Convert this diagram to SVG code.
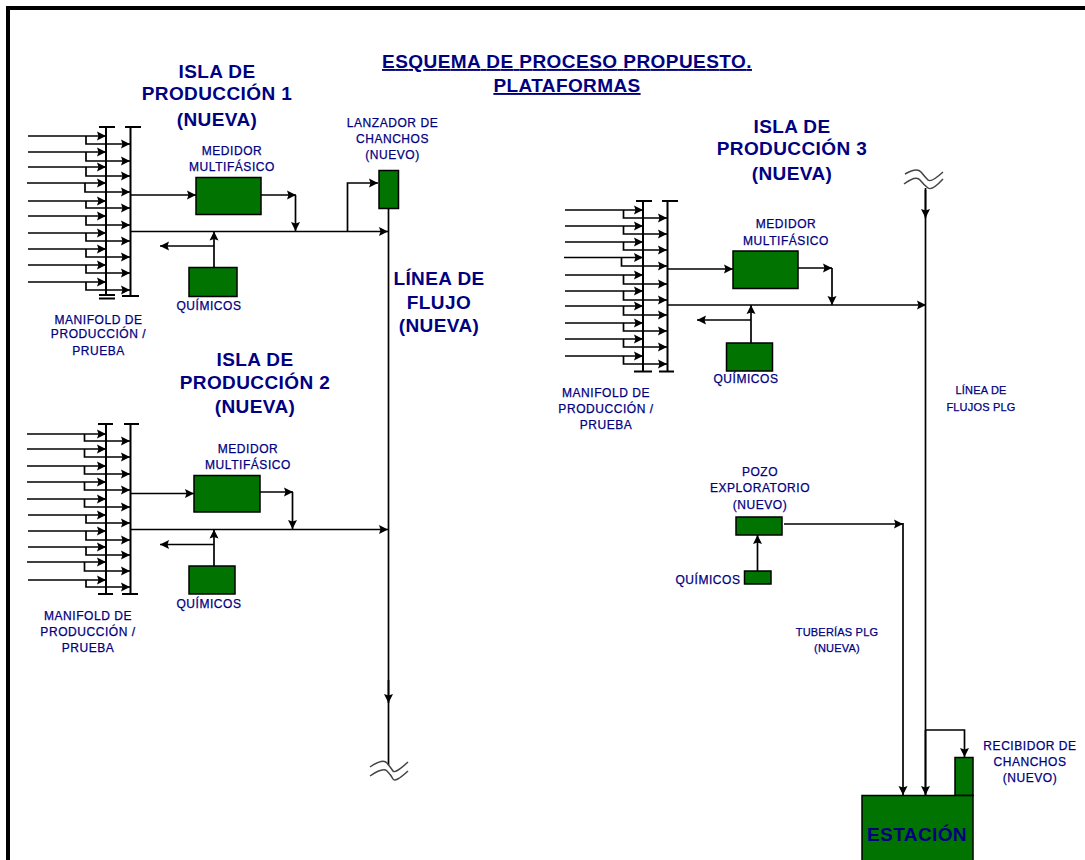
<svg xmlns="http://www.w3.org/2000/svg" width="1085" height="860" viewBox="0 0 1085 860">
<style>
text{font-family:"Liberation Sans",Arial,sans-serif;fill:#000080;text-anchor:middle}
.h{font-size:19px;font-weight:bold;letter-spacing:.4px}
.l{font-size:12px;letter-spacing:.55px;stroke:#000080;stroke-width:.25}
.n{font-size:11px;letter-spacing:.2px;stroke:#000080;stroke-width:.25}
.b{fill:#007300;stroke:#000;stroke-width:1.5}
.c{fill:none;stroke:#000;stroke-width:1.7}
.t{fill:none;stroke:#000;stroke-width:2}
.a{marker-end:url(#arr)}
.w{fill:none;stroke:#444;stroke-width:1.5}
</style>
<defs>
<marker id="arr" markerUnits="userSpaceOnUse" markerWidth="12" markerHeight="12" refX="10" refY="6" orient="auto"><path d="M1 1.500L10 6L1 10.500L2.500 6Z" fill="#000"/></marker>
</defs>
<rect width="1085" height="860" fill="#fff"/>
<rect id="frame-top" x="6" y="6" width="1079" height="4" fill="#000"/>
<rect id="frame-left" x="6" y="6" width="4" height="854" fill="#000"/>
<g id="title">
<text class="h" x="567" y="68" textLength="370" lengthAdjust="spacing" text-decoration="underline">ESQUEMA DE PROCESO PROPUESTO.</text>
<text class="h" x="567" y="92" text-decoration="underline">PLATAFORMAS</text>
</g>
<g id="connectors">
<path class="t" d="M99 127H115M125 127H141M106 127V296M130.500 127V296M99 295H115M99 298.500H115M122 296H139"/>
<path class="c a" d="M28 136H106"/><path class="c a" d="M86 136V144H130"/>
<path class="c a" d="M28 152H106"/><path class="c a" d="M86 152V161H130"/>
<path class="c a" d="M28 167H106"/><path class="c a" d="M86 167V176H130"/>
<path class="c a" d="M27 183H106"/><path class="c a" d="M85 183V192H130"/>
<path class="c a" d="M28 201H106"/><path class="c a" d="M86 201V208H130"/>
<path class="c a" d="M28 216H106"/><path class="c a" d="M86 216V225H130"/>
<path class="c a" d="M28 233H106"/><path class="c a" d="M86 233V241H130"/>
<path class="c a" d="M28 249H106"/><path class="c a" d="M86 249V257H130"/>
<path class="c a" d="M28 265H106"/><path class="c a" d="M86 265V273H130"/>
<path class="c a" d="M28 282H106"/><path class="c a" d="M86 282V290H130"/>
<path class="c a" d="M131 195H196"/>
<path class="c a" d="M131 231.500H388"/>
<path class="c a" d="M214 267V231.500"/>
<path class="c a" d="M214 246H160"/>
<path class="c a" d="M261 195H296"/>
<path class="c a" d="M295.500 195V231"/>
<path class="c a" d="M347.500 231.500V183H378"/>

<path class="t" d="M98 424H113M124 424H139M106 424V594M130.500 424V594M98 594H113M122 594H138"/>
<path class="c a" d="M27 434H106"/><path class="c a" d="M84.500 434V441H130"/>
<path class="c a" d="M27 449H106"/><path class="c a" d="M84.500 449V457H130"/>
<path class="c a" d="M27 466H106"/><path class="c a" d="M84.500 466V474H130"/>
<path class="c a" d="M27 482H106"/><path class="c a" d="M84.500 482V490H130"/>
<path class="c a" d="M27 499H106"/><path class="c a" d="M84.500 499V507H130"/>
<path class="c a" d="M28 515H106"/><path class="c a" d="M86 515V523H130"/>
<path class="c a" d="M28 531H106"/><path class="c a" d="M86 531V540H130"/>
<path class="c a" d="M28 547H106"/><path class="c a" d="M86 547V555H130"/>
<path class="c a" d="M27 562H106"/><path class="c a" d="M84.500 562V571H130"/>
<path class="c a" d="M28 580H106"/><path class="c a" d="M86 580V587H130"/>
<path class="c a" d="M131 493.500H194"/>
<path class="c a" d="M131 529.500H388"/>
<path class="c a" d="M214 566V529.500"/>
<path class="c a" d="M214 544.500H160"/>
<path class="c a" d="M260 492H293"/>
<path class="c a" d="M292.500 492V529"/>

<path class="t" d="M636 201H652M662 201H678M643 201V371M667.500 201V371M634 371.500H652M659 371.500H674"/>
<path class="c a" d="M565 210H643"/><path class="c a" d="M623.500 210V218H667"/>
<path class="c a" d="M565 226H643"/><path class="c a" d="M623.500 226V234H667"/>
<path class="c a" d="M565 242H643"/><path class="c a" d="M623.500 242V250H667"/>
<path class="c a" d="M564 257.500H643"/><path class="c a" d="M621.500 257.500V266H667"/>
<path class="c a" d="M565 275H643"/><path class="c a" d="M623.500 275V284H667"/>
<path class="c a" d="M565 291H643"/><path class="c a" d="M623.500 291V300H667"/>
<path class="c a" d="M565 306H643"/><path class="c a" d="M623.500 306V315H667"/>
<path class="c a" d="M565 323H643"/><path class="c a" d="M623.500 323V331H667"/>
<path class="c a" d="M565 339H643"/><path class="c a" d="M623.500 339V347H667"/>
<path class="c a" d="M565 356H643"/><path class="c a" d="M623.500 356V364H667"/>
<path class="c a" d="M668 269H733"/>
<path class="c a" d="M668 305H926"/>
<path class="c a" d="M751 343V305"/>
<path class="c a" d="M751 320H697"/>
<path class="c a" d="M798 268H832"/>
<path class="c a" d="M832 268V305"/>

<path class="c" d="M388.500 208V765"/>
<path class="c a" d="M388.500 680V703"/>
<path class="w" d="M370 767Q383 758 387 763T393 771T408 762M370 776Q383 767 387 771T393 779T408 771"/>
<path class="c" d="M925.500 188V795"/>
<path class="c a" d="M925.500 190V218"/>
<path class="w" d="M905 174Q917 167 921 172T928 180T943 172M904 184Q916 175 920 180T928 188T943 179"/>
<path class="c a" d="M925.500 730V795"/>
<path class="c a" d="M925.500 730H964.500V757"/>
<path class="c a" d="M784 524H903"/>
<path class="c a" d="M903 523V795"/>
<path class="c a" d="M757.500 571V535"/>
</g>
<g id="isla1-title"><text class="h" x="217" y="78">ISLA DE</text><text class="h" x="217" y="100">PRODUCCIÓN 1</text><text class="h" x="217" y="126">(NUEVA)</text></g>
<g id="isla2-title"><text class="h" x="255" y="366">ISLA DE</text><text class="h" x="255" y="389">PRODUCCIÓN 2</text><text class="h" x="255" y="413">(NUEVA)</text></g>
<g id="isla3-title"><text class="h" x="792" y="133">ISLA DE</text><text class="h" x="792" y="155">PRODUCCIÓN 3</text><text class="h" x="792" y="180">(NUEVA)</text></g>
<g id="linea-flujo"><text class="h" x="439" y="285">LÍNEA DE</text><text class="h" x="439" y="309">FLUJO</text><text class="h" x="439" y="332">(NUEVA)</text></g>
<g id="linea-flujos-plg"><text class="n" x="981" y="394">LÍNEA DE</text><text class="n" x="981" y="411">FLUJOS PLG</text></g>
<g id="tuberias-plg"><text class="n" x="837" y="636">TUBERÍAS PLG</text><text class="n" x="837" y="652">(NUEVA)</text></g>
<g id="manifold1"><text class="l" x="98.500" y="324">MANIFOLD DE</text><text class="l" x="98.500" y="338">PRODUCCIÓN /</text><text class="l" x="98.500" y="355">PRUEBA</text></g>
<g id="manifold2"><text class="l" x="88" y="620">MANIFOLD DE</text><text class="l" x="88" y="636">PRODUCCIÓN /</text><text class="l" x="88" y="652">PRUEBA</text></g>
<g id="manifold3"><text class="l" x="606" y="397">MANIFOLD DE</text><text class="l" x="606" y="413">PRODUCCIÓN /</text><text class="l" x="606" y="429">PRUEBA</text></g>
<g id="medidor1"><rect class="b" x="196" y="177.500" width="65" height="37"/><text class="l" x="232" y="155">MEDIDOR</text><text class="l" x="232" y="171">MULTIFÁSICO</text></g>
<g id="medidor2"><rect class="b" x="194" y="475.500" width="66" height="36.500"/><text class="l" x="248" y="453">MEDIDOR</text><text class="l" x="248" y="469">MULTIFÁSICO</text></g>
<g id="medidor3"><rect class="b" x="733" y="251" width="65" height="37.500"/><text class="l" x="786" y="228">MEDIDOR</text><text class="l" x="786" y="245">MULTIFÁSICO</text></g>
<g id="quimicos1"><rect class="b" x="189" y="267.500" width="48" height="29"/><text class="l" x="209" y="310">QUÍMICOS</text></g>
<g id="quimicos2"><rect class="b" x="189" y="566" width="46" height="28"/><text class="l" x="209" y="608">QUÍMICOS</text></g>
<g id="quimicos3"><rect class="b" x="726.500" y="343" width="46" height="28"/><text class="l" x="746" y="383">QUÍMICOS</text></g>
<g id="lanzador"><rect class="b" x="379" y="170.500" width="19.500" height="38"/><text class="l" x="392.500" y="126.500">LANZADOR DE</text><text class="l" x="392.500" y="143">CHANCHOS</text><text class="l" x="392.500" y="159">(NUEVO)</text></g>
<g id="pozo"><rect class="b" x="736" y="517" width="46" height="18"/><text class="l" x="760" y="476">POZO</text><text class="l" x="760" y="492">EXPLORATORIO</text><text class="l" x="760" y="509">(NUEVO)</text></g>
<g id="quimicos-pozo"><rect class="b" x="744.500" y="571" width="26.500" height="13"/><text class="l" x="708" y="584">QUÍMICOS</text></g>
<g id="recibidor"><rect class="b" x="955" y="757.500" width="18" height="38"/><text class="l" x="1030" y="750">RECIBIDOR DE</text><text class="l" x="1030" y="766">CHANCHOS</text><text class="l" x="1030" y="782">(NUEVO)</text></g>
<g id="estacion"><rect class="b" x="862" y="795.500" width="111" height="70"/><text class="h" x="917" y="840.500">ESTACIÓN</text></g>
</svg>
